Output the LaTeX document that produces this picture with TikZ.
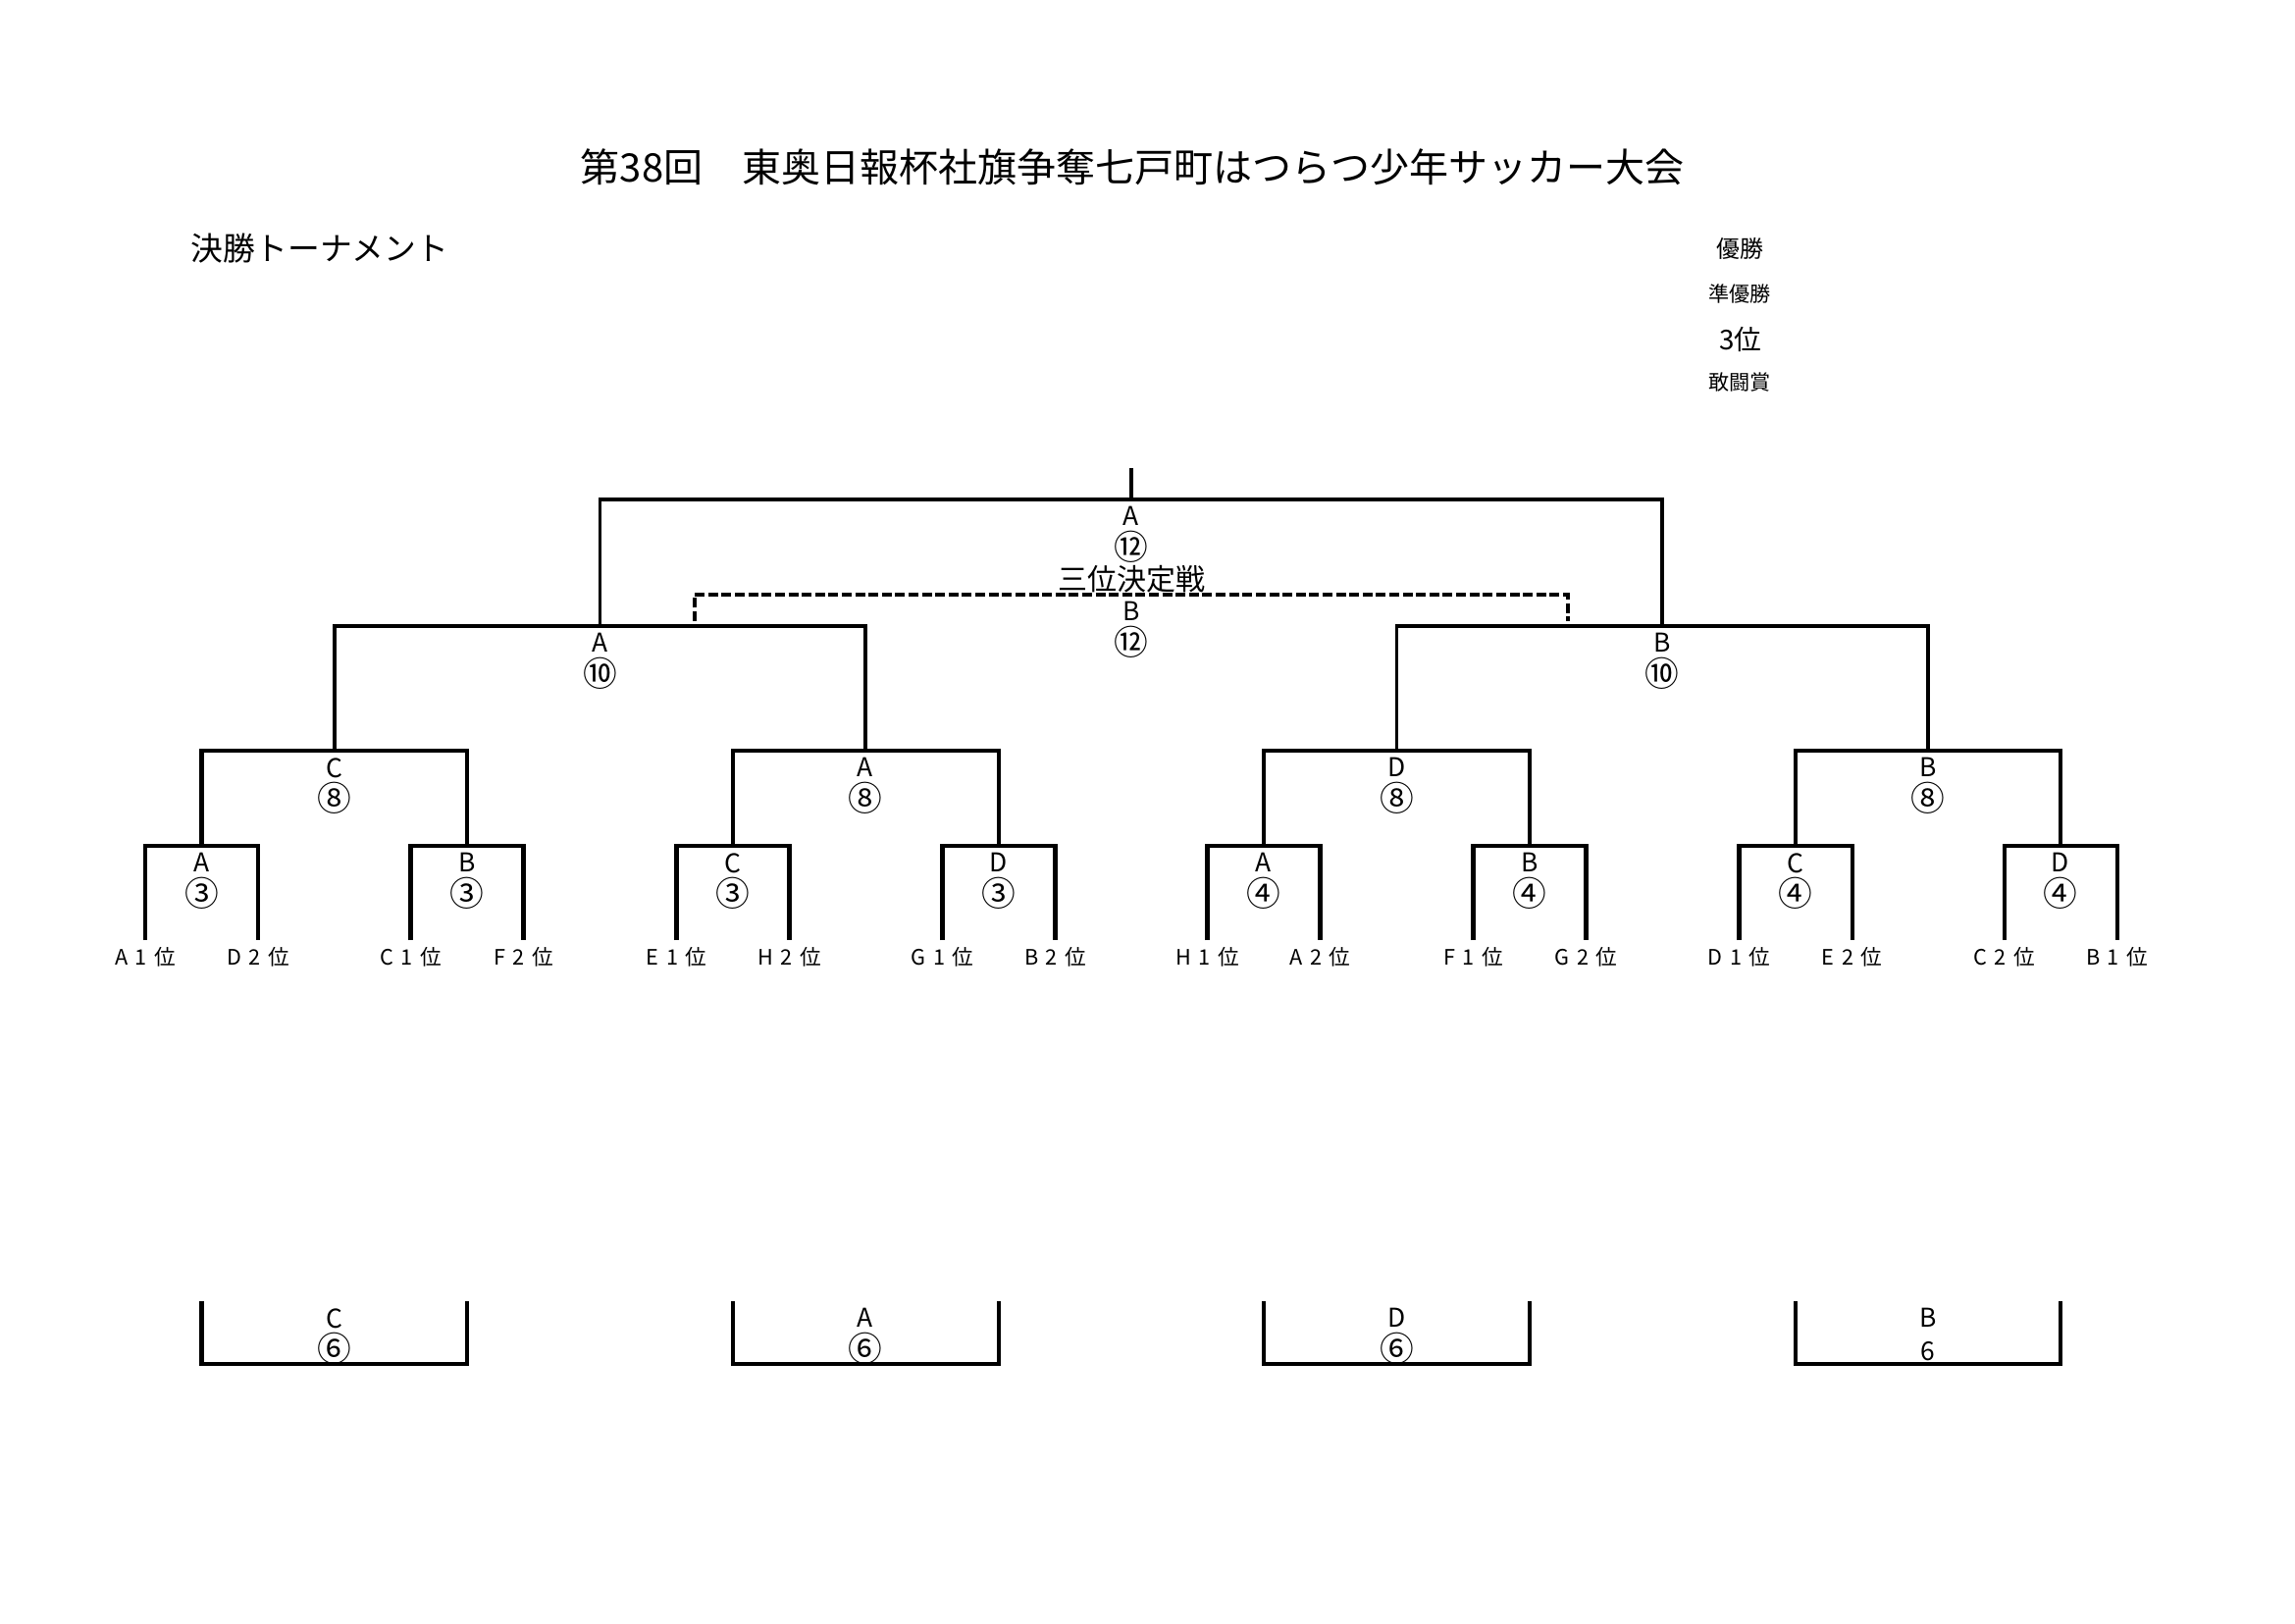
\documentclass[tikz,border=0pt]{standalone}
\usepackage{fontspec}
\setmainfont{Noto Sans CJK JP}
\usetikzlibrary{positioning}
\newcommand{\rank}[2]{#1\hspace{2.7pt}#2\hspace{2.7pt}位}
\newcommand{\cnum}[1]{{\fontsize{12.5}{12}\selectfont #1}}

\begin{document}
\begin{tikzpicture}[x=0.36pt, y=-0.36pt]
        % Define styles
        \tikzset{
            bar/.style={line width=1.45pt},
            upperbar/.style={line width=1.2pt},
            thirdbar/.style={line width=1.15pt, dash pattern=on 3.6pt off 1.3pt},
            winner/.style={align=center, inner sep=0pt, font=\fontsize{9.5}{11}\selectfont},
            leaf/.style={anchor=north, inner sep=2.5pt, font=\fontsize{7.8}{8}\selectfont},
            heading/.style={inner sep=0pt}
        }
        \useasboundingbox (0,0) rectangle (2339,1654);

        % Titles
        \node[heading, font=\fontsize{14.4}{16}\selectfont] (title) at (1154,170) {第38回　東奥日報杯社旗争奪七戸町はつらつ少年サッカー大会};
        \node[heading, font=\fontsize{11.8}{13}\selectfont] (subtitle) at (326,253) {決勝トーナメント};
        \node[heading, font=\fontsize{8.6}{10}\selectfont] (prize_1) at (1773,253) {優勝};
        \node[heading, font=\fontsize{7.6}{9}\selectfont] (prize_2) at (1773,299) {準優勝};
        \node[heading, font=\fontsize{10}{12}\selectfont] (prize_3) at (1774,346) {3位};
        \node[heading, font=\fontsize{7.6}{9}\selectfont] (prize_4) at (1773,390) {敢闘賞};

        % Leaves
        \node[leaf] (leaf_1) at (148,958) {\rank{A}{1}};
        \node[leaf] (leaf_2) at (263,958) {\rank{D}{2}};
        \node[leaf] (leaf_3) at (418.5,958) {\rank{C}{1}};
        \node[leaf] (leaf_4) at (533.5,958) {\rank{F}{2}};
        \node[leaf] (leaf_5) at (689.5,958) {\rank{E}{1}};
        \node[leaf] (leaf_6) at (804.5,958) {\rank{H}{2}};
        \node[leaf] (leaf_7) at (960.5,958) {\rank{G}{1}};
        \node[leaf] (leaf_8) at (1075.5,958) {\rank{B}{2}};
        \node[leaf] (leaf_9) at (1230.5,958) {\rank{H}{1}};
        \node[leaf] (leaf_10) at (1345.5,958) {\rank{A}{2}};
        \node[leaf] (leaf_11) at (1501.5,958) {\rank{F}{1}};
        \node[leaf] (leaf_12) at (1616.5,958) {\rank{G}{2}};
        \node[leaf] (leaf_13) at (1772.5,958) {\rank{D}{1}};
        \node[leaf] (leaf_14) at (1887.5,958) {\rank{E}{2}};
        \node[leaf] (leaf_15) at (2042.5,958) {\rank{C}{2}};
        \node[leaf] (leaf_16) at (2157.5,958) {\rank{B}{1}};

        % Match points
        \coordinate (r1_1) at (205.5,862);
        \coordinate (r1_2) at (476,862);
        \coordinate (r1_3) at (747,862);
        \coordinate (r1_4) at (1018,862);
        \coordinate (r1_5) at (1288,862);
        \coordinate (r1_6) at (1559,862);
        \coordinate (r1_7) at (1830,862);
        \coordinate (r1_8) at (2100,862);
        \coordinate (qf_1) at (341,765);
        \coordinate (qf_2) at (882,765);
        \coordinate (qf_3) at (1423.5,765);
        \coordinate (qf_4) at (1965,765);
        \coordinate (sf_1) at (611.5,638);
        \coordinate (sf_2) at (1694,638);
        \coordinate (final) at (1153,509);
        \coordinate (top) at (1153,477);
        \coordinate (third) at (1153,606);
        \coordinate (third_l) at (708,633);
        \coordinate (third_r) at (1598,633);

        % Lines
        \draw[bar] (leaf_1.north) |- (r1_1) -| (leaf_2.north);
        \draw[bar] (leaf_3.north) |- (r1_2) -| (leaf_4.north);
        \draw[bar] (leaf_5.north) |- (r1_3) -| (leaf_6.north);
        \draw[bar] (leaf_7.north) |- (r1_4) -| (leaf_8.north);
        \draw[bar] (leaf_9.north) |- (r1_5) -| (leaf_10.north);
        \draw[bar] (leaf_11.north) |- (r1_6) -| (leaf_12.north);
        \draw[bar] (leaf_13.north) |- (r1_7) -| (leaf_14.north);
        \draw[bar] (leaf_15.north) |- (r1_8) -| (leaf_16.north);
        \draw[bar] (r1_1) |- (qf_1) -| (r1_2);
        \draw[bar] (r1_3) |- (qf_2) -| (r1_4);
        \draw[bar] (r1_5) |- (qf_3) -| (r1_6);
        \draw[bar] (r1_7) |- (qf_4) -| (r1_8);
        \draw[upperbar] (qf_1) |- (sf_1) -| (qf_2);
        \draw[upperbar] (qf_3) |- (sf_2) -| (qf_4);
        \draw[upperbar] (sf_1) |- (final) -| (sf_2);
        \draw[bar] (top) -- (final);
        \draw[thirdbar] (third_l) |- (third) -| (third_r);

        % Winners
        \node[winner, below=2.5pt of r1_1] (win_r1_1) {A\\[1.5pt]\cnum{③}};
        \node[winner, below=2.5pt of r1_2] (win_r1_2) {B\\[1.5pt]\cnum{③}};
        \node[winner, below=2.5pt of r1_3] (win_r1_3) {C\\[1.5pt]\cnum{③}};
        \node[winner, below=2.5pt of r1_4] (win_r1_4) {D\\[1.5pt]\cnum{③}};
        \node[winner, below=2.5pt of r1_5] (win_r1_5) {A\\[1.5pt]\cnum{④}};
        \node[winner, below=2.5pt of r1_6] (win_r1_6) {B\\[1.5pt]\cnum{④}};
        \node[winner, below=2.5pt of r1_7] (win_r1_7) {C\\[1.5pt]\cnum{④}};
        \node[winner, below=2.5pt of r1_8] (win_r1_8) {D\\[1.5pt]\cnum{④}};
        \node[winner, below=2.5pt of qf_1] (win_qf_1) {C\\[1.5pt]\cnum{⑧}};
        \node[winner, below=2.5pt of qf_2] (win_qf_2) {A\\[1.5pt]\cnum{⑧}};
        \node[winner, below=2.5pt of qf_3] (win_qf_3) {D\\[1.5pt]\cnum{⑧}};
        \node[winner, below=2.5pt of qf_4] (win_qf_4) {B\\[1.5pt]\cnum{⑧}};
        \node[winner, below=2.5pt of sf_1] (win_sf_1) {A\\[1.5pt]\cnum{⑩}};
        \node[winner, below=2.5pt of sf_2] (win_sf_2) {B\\[1.5pt]\cnum{⑩}};
        \node[winner, below=2.5pt of final] (win_final) {A\\[1.5pt]\cnum{⑫}};
        \node[heading, above=0.5pt of third, font=\fontsize{10.8}{12}\selectfont] (third_title) {三位決定戦};
        \node[winner, below=2.5pt of third] (win_third) {B\\[1.5pt]\cnum{⑫}};

        % Boxes
        \coordinate (box_1_l) at (205.5,1326);
        \coordinate (box_1) at (341,1390);
        \coordinate (box_1_r) at (476,1326);
        \coordinate (box_2_l) at (747,1326);
        \coordinate (box_2) at (882,1390);
        \coordinate (box_2_r) at (1018,1326);
        \coordinate (box_3_l) at (1288,1326);
        \coordinate (box_3) at (1423.5,1390);
        \coordinate (box_3_r) at (1559,1326);
        \coordinate (box_4_l) at (1830,1326);
        \coordinate (box_4) at (1965,1390);
        \coordinate (box_4_r) at (2100,1326);
        \draw[bar] (box_1_l) |- (box_1) -| (box_1_r);
        \draw[bar] (box_2_l) |- (box_2) -| (box_2_r);
        \draw[bar] (box_3_l) |- (box_3) -| (box_3_r);
        \draw[bar] (box_4_l) |- (box_4) -| (box_4_r);
        \node[winner, anchor=north] (box_win_1) at (341,1333) {C\\[1.5pt]\cnum{⑥}};
        \node[winner, anchor=north] (box_win_2) at (882,1333) {A\\[1.5pt]\cnum{⑥}};
        \node[winner, anchor=north] (box_win_3) at (1423.5,1333) {D\\[1.5pt]\cnum{⑥}};
        \node[winner, anchor=north] (box_win_4) at (1965,1333) {B\\[1pt]6};
    \end{tikzpicture}
\end{document}
